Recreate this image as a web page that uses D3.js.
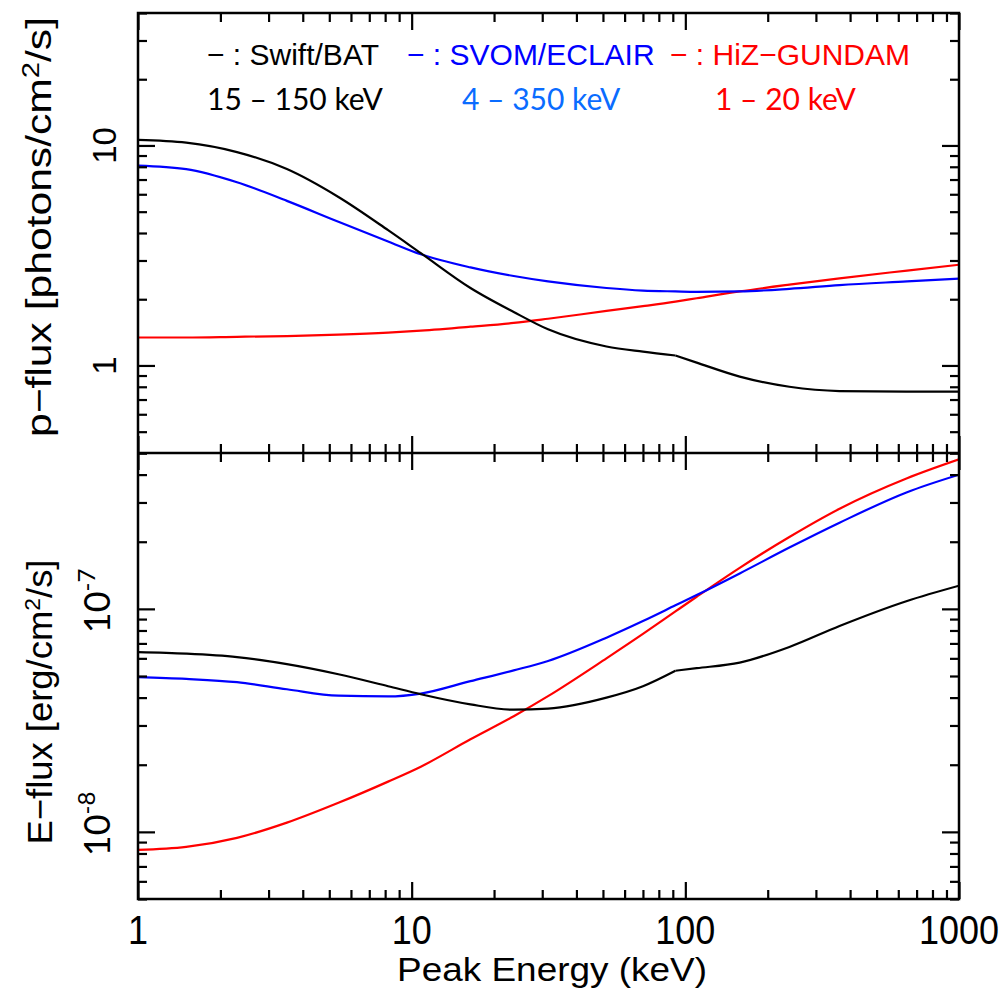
<!DOCTYPE html>
<html><head><meta charset="utf-8">
<script src="https://cdn.jsdelivr.net/npm/d3@7"></script>
<style>body{margin:0;background:#fff}svg{display:block}</style>
</head><body>
<svg id="c" width="1003" height="988"></svg>
<script>
// ---- data ----
const energies = [1, 1.5, 2.3, 3.5, 5.4, 8.2, 10.8, 16.4, 23.6, 31.5, 51.5, 70, 92, 110, 158, 240, 366, 646, 1000];
const pfluxSwift = [10.6, 10.3, 9.33, 7.81, 5.83, 4.12, 3.24, 2.25, 1.75, 1.46, 1.22, 1.155, 1.11, 1.03, 0.89, 0.80, 0.765, 0.76, 0.76];
const pfluxSvom  = [8.1, 7.8, 6.8, 5.6, 4.5, 3.66, 3.2, 2.79, 2.55, 2.41, 2.25, 2.19, 2.17, 2.16, 2.17, 2.23, 2.32, 2.41, 2.48];
const pfluxHiz   = [1.34, 1.34, 1.35, 1.36, 1.38, 1.41, 1.44, 1.5, 1.56, 1.63, 1.77, 1.86, 1.95, 2.02, 2.17, 2.33, 2.49, 2.70, 2.87];
const efluxSwift = [6.4e-8, 6.3e-8, 6.08e-8, 5.65e-8, 5.09e-8, 4.5e-8, 4.14e-8, 3.73e-8, 3.53e-8, 3.57e-8, 4.0e-8, 4.5e-8, 5.28e-8, 5.42e-8, 5.74e-8, 6.75e-8, 8.38e-8, 1.085e-7, 1.27e-7];
const efluxSvom  = [4.94e-8, 4.85e-8, 4.69e-8, 4.36e-8, 4.08e-8, 4.05e-8, 4.17e-8, 4.74e-8, 5.3e-8, 5.84e-8, 7.43e-8, 8.82e-8, 1.037e-7, 1.153e-7, 1.442e-7, 1.883e-7, 2.434e-7, 3.336e-7, 3.996e-7];
const efluxHiz   = [8.3e-9, 8.56e-9, 9.4e-9, 1.1e-8, 1.35e-8, 1.68e-8, 1.96e-8, 2.6e-8, 3.3e-8, 4.06e-8, 6.0e-8, 7.72e-8, 9.74e-8, 1.133e-7, 1.528e-7, 2.10e-7, 2.81e-7, 3.85e-7, 4.68e-7];
const swiftKinkEnergy = 92;

const seriesNames = ["Swift/BAT", "SVOM/ECLAIR", "HiZ\u2212GUNDAM"];
const bandLabels = ["15 \u2013 150 keV", "4 \u2013 350 keV", "1 \u2013 20 keV"];

const xTickLabels = ["1", "10", "100", "1000"];
const xMajor = [1, 10, 100, 1000];
const xMinor = [2,3,4,5,6,7,8,9,20,30,40,50,60,70,80,90,200,300,400,500,600,700,800,900];
const topMajor = [1, 10];
const topMinor = [0.4,0.5,0.6,0.7,0.8,0.9,2,3,4,5,6,7,8,9,20,30,40];
const botMajor = [1e-8, 1e-7];
const botMinor = [5e-9,6e-9,7e-9,8e-9,9e-9,2e-8,3e-8,4e-8,5e-8,6e-8,7e-8,8e-8,9e-8,2e-7,3e-7,4e-7,5e-7];

// ---- layout ----
const L = 138, R = 959, T = 13, M = 453, B = 899;
const colors = ["#000000", "#0000ff", "#ff0000"];
const bandColors = ["#000000", "#0a6cff", "#ff0000"];

const svg = d3.select("#c");
const x = d3.scaleLog().domain([1, 1000]).range([L, R]);
const yTop = d3.scaleLog().domain([0.4, 40]).range([M, T]);
const yBot = d3.scaleLog().domain([5e-9, 5e-7]).range([B, M]);

const defs = svg.append("defs");
defs.append("clipPath").attr("id", "clipTop").append("rect").attr("x", L).attr("y", T).attr("width", R - L).attr("height", M - T);
defs.append("clipPath").attr("id", "clipBot").append("rect").attr("x", L).attr("y", M).attr("width", R - L).attr("height", B - M);

function drawSeries(vals, y, color, clip, kink) {
  const pts = energies.map((e, i) => [e, vals[i]]);
  const line = d3.line().x(d => x(d[0])).y(d => y(d[1])).curve(d3.curveMonotoneX);
  const segs = [];
  if (kink) {
    const k = energies.indexOf(kink);
    segs.push(pts.slice(0, k + 1), pts.slice(k));
  } else segs.push(pts);
  segs.forEach(s => svg.append("path").attr("d", line(s)).attr("fill", "none")
    .attr("stroke", color).attr("stroke-width", 2.2).attr("stroke-linejoin", "round")
    .attr("clip-path", `url(#${clip})`));
}

drawSeries(pfluxHiz, yTop, colors[2], "clipTop");
drawSeries(pfluxSvom, yTop, colors[1], "clipTop");
drawSeries(pfluxSwift, yTop, colors[0], "clipTop", swiftKinkEnergy);
drawSeries(efluxHiz, yBot, colors[2], "clipBot");
drawSeries(efluxSvom, yBot, colors[1], "clipBot");
drawSeries(efluxSwift, yBot, colors[0], "clipBot", swiftKinkEnergy);

// ---- ticks via d3 axes (inward) ----
function ticks(axisGen, scale, values, size, tx, ty) {
  const g = svg.append("g").attr("transform", `translate(${tx},${ty})`)
    .call(axisGen(scale).tickValues(values).tickSize(-size).tickFormat(""));
  g.select(".domain").remove();
  g.selectAll(".tick line").attr("stroke", "#000").attr("stroke-width", 2.2);
}
const MAJ = 17, MIN = 9;
[[d3.axisTop, T], [d3.axisBottom, M], [d3.axisTop, M], [d3.axisBottom, B]].forEach(([a, yy]) => {
  ticks(a, x, xMajor, MAJ, 0, yy);
  ticks(a, x, xMinor, MIN, 0, yy);
});
ticks(d3.axisLeft, yTop, topMajor, MAJ, L, 0);
ticks(d3.axisLeft, yTop, topMinor, MIN, L, 0);
ticks(d3.axisRight, yTop, topMajor, MAJ, R, 0);
ticks(d3.axisRight, yTop, topMinor, MIN, R, 0);
ticks(d3.axisLeft, yBot, botMajor, MAJ, L, 0);
ticks(d3.axisLeft, yBot, botMinor, MIN, L, 0);
ticks(d3.axisRight, yBot, botMajor, MAJ, R, 0);
ticks(d3.axisRight, yBot, botMinor, MIN, R, 0);

// frame
svg.append("rect").attr("x", L).attr("y", T).attr("width", R - L).attr("height", B - T)
  .attr("fill", "none").attr("stroke", "#000").attr("stroke-width", 2.5);
svg.append("line").attr("x1", L).attr("x2", R).attr("y1", M).attr("y2", M)
  .attr("stroke", "#000").attr("stroke-width", 2.5);

// ---- text ----
const RF = "'Liberation Sans', Arial, sans-serif";
const CF = "Lato, 'Open Sans', sans-serif";

// x tick labels
xMajor.forEach((v, i) => {
  svg.append("text").attr("transform", `translate(${x(v)},944) scale(1,1.15)`)
    .attr("text-anchor", "middle").attr("font-family", RF).attr("font-size", 36)
    .text(xTickLabels[i]);
});
// x title
svg.append("text").attr("x", 552).attr("y", 981).attr("text-anchor", "middle")
  .attr("font-family", RF).attr("font-size", 34).attr("textLength", 310)
  .attr("lengthAdjust", "spacingAndGlyphs").text("Peak Energy (keV)");

// top y tick labels
topMajor.forEach(v => {
  svg.append("text").attr("transform", `translate(116,${yTop(v)}) rotate(-90)`)
    .attr("text-anchor", "middle").attr("font-family", RF).attr("font-size", 33)
    .text(d3.format("d")(v));
});
// bottom y tick labels (10^n)
botMajor.forEach(v => {
  const ex = Math.round(Math.log10(v));
  const t = svg.append("text").attr("transform", `translate(110,${yBot(v) - 8}) rotate(-90)`)
    .attr("text-anchor", "middle").attr("font-family", CF).attr("font-size", 36);
  t.append("tspan").text("10");
  t.append("tspan").attr("dy", -15).attr("font-size", 24).text(String(ex));
});

// y titles
svg.append("text").attr("transform", `translate(51,227) rotate(-90)`).attr("text-anchor", "middle")
  .attr("font-family", RF).attr("font-size", 35).attr("textLength", 420).attr("lengthAdjust", "spacingAndGlyphs")
  .call(t => {
    t.append("tspan").text("p\u2212flux [photons/cm");
    t.append("tspan").attr("dy", -12).attr("font-size", 24).text("2");
    t.append("tspan").attr("dy", 12).text("/s]");
  });
svg.append("text").attr("transform", `translate(52,702) rotate(-90)`).attr("text-anchor", "middle")
  .attr("font-family", RF).attr("font-size", 35).attr("textLength", 285).attr("lengthAdjust", "spacingAndGlyphs")
  .call(t => {
    t.append("tspan").text("E\u2212flux [erg/cm");
    t.append("tspan").attr("dy", -12).attr("font-size", 22).text("2");
    t.append("tspan").attr("dy", 12).text("/s]");
  });

// legend
const legX = [207, 407, 670];
const bandX = [207, 462, 715];
seriesNames.forEach((n, i) => {
  svg.append("text").attr("x", legX[i]).attr("y", 65).attr("font-family", RF).attr("font-size", 30)
    .attr("fill", colors[i]).text("\u2212 : " + n);
  svg.append("text").attr("x", bandX[i]).attr("y", 110).attr("font-family", CF).attr("font-size", 30)
    .attr("fill", bandColors[i]).text(bandLabels[i]);
});
</script>
</body></html>
